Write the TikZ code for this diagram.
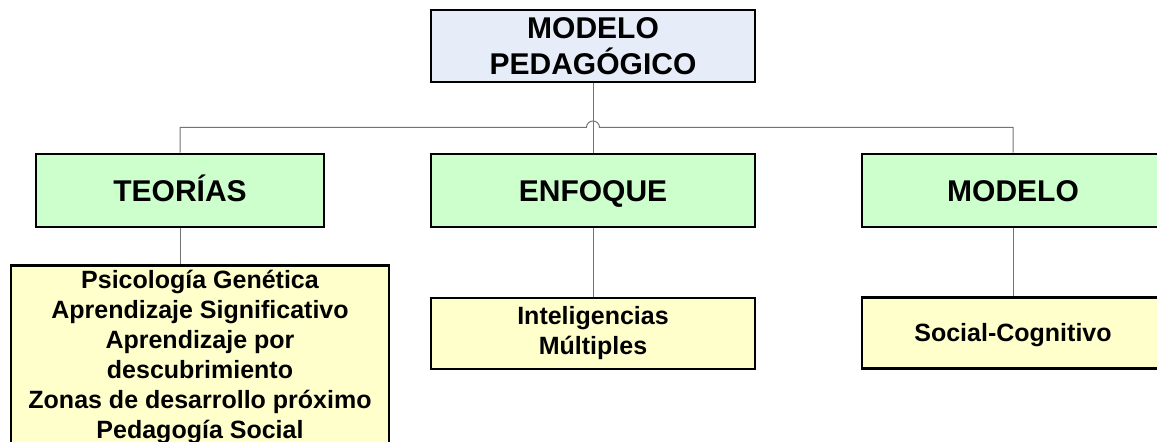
\documentclass[tikz,border=0pt]{standalone}
\usepackage{fontspec}
\setmainfont{Liberation Sans}
\definecolor{azulclaro}{HTML}{E6ECF8}
\definecolor{verdeclaro}{HTML}{CCFFCC}
\definecolor{amarilloclaro}{HTML}{FFFFCC}
\begin{document}
\begin{tikzpicture}[x=0.75pt,y=-0.75pt,
  caja/.style={draw=black,line width=2.2pt,inner sep=0pt,align=center,font=\bfseries\fontsize{22.5pt}{27pt}\selectfont},
  titulo/.style={caja,fill=azulclaro,minimum width=243pt,minimum height=54pt},
  rama/.style={caja,fill=verdeclaro,minimum height=54.75pt,text height=16.1pt,text depth=0pt},
  hoja/.style={caja,fill=amarilloclaro,font=\bfseries\fontsize{18.75pt}{22.5pt}\selectfont},
  enlace/.style={draw=black!55,line width=0.75pt}]
\clip (0,0) rectangle (1157,442);
% raiz
\node[titulo] (pedagogico) at (593,46) {MODELO\\PEDAGÓGICO};
% ramas
\node[rama,minimum width=216pt] (teorias) at (180,190.5) {TEORÍAS};
\node[rama,minimum width=243pt] (enfoque) at (593,190.5) {ENFOQUE};
\node[rama,minimum width=226.5pt] (modelo) at (1013,190.5) {MODELO};
% hojas
\node[hoja,minimum width=283.5pt,anchor=north,inner ysep=3.75pt] (listaTeorias) at (200,264)
  {Psicología Genética\\Aprendizaje Significativo\\Aprendizaje por\\descubrimiento\\Zonas de desarrollo próximo\\Pedagogía Social};
\node[hoja,minimum width=243pt,minimum height=53.25pt] (inteligencias) at (593,333.5) {Inteligencias\\Múltiples};
\node[hoja,minimum width=226.5pt,minimum height=53.25pt,text height=13.4pt,text depth=0pt] (social) at (1013,333) {Social-Cognitivo};
% conectores
\coordinate (cruce) at (593,127.5);
\draw[enlace] (pedagogico.south) -- (enfoque.north);
\draw[enlace] (teorias.north) |- ([xshift=-4.9pt]cruce) arc[start angle=180,end angle=0,radius=4.9pt] -| (modelo.north);
\draw[enlace] (teorias.south) -- (listaTeorias.north -| teorias.south);
\draw[enlace] (enfoque.south) -- (inteligencias.north);
\draw[enlace] (modelo.south) -- (social.north);
\end{tikzpicture}
\end{document}
